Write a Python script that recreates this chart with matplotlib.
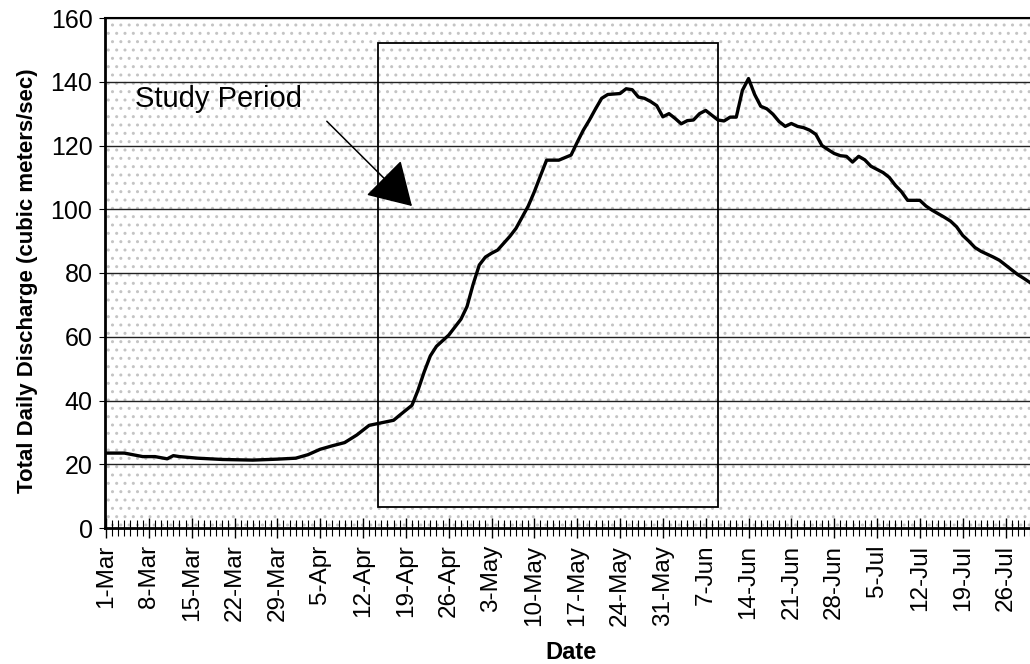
import matplotlib
matplotlib.use('Agg')
import matplotlib.pyplot as plt
import matplotlib.dates as mdates
from matplotlib.patches import Rectangle
import pandas as pd

plt.rcParams['font.family'] = ['Liberation Sans', 'DejaVu Sans']
plt.rcParams['hatch.linewidth'] = 1.0

# daily discharge (m3/s)
dates = ['03-01', '03-04', '03-07', '03-09', '03-11', '03-12', '03-13', '03-16', '03-20',
         '03-25', '03-29', '04-01', '04-03', '04-05', '04-07', '04-09', '04-11', '04-13',
         '04-15', '04-17', '04-18', '04-20', '04-21', '04-22', '04-23', '04-24', '04-26',
         '04-28', '04-29', '04-30', '05-01', '05-02', '05-03', '05-04', '05-06', '05-07',
         '05-08', '05-09', '05-10', '05-11', '05-12', '05-14', '05-16', '05-17', '05-18',
         '05-19', '05-20', '05-21', '05-22', '05-24', '05-25', '05-26', '05-27', '05-28',
         '05-29', '05-30', '05-31', '06-01', '06-02', '06-03', '06-04', '06-05', '06-06',
         '06-07', '06-08', '06-09', '06-10', '06-11', '06-12', '06-13', '06-14', '06-15',
         '06-16', '06-17', '06-18', '06-19', '06-20', '06-21', '06-22', '06-23', '06-24',
         '06-25', '06-26', '06-27', '06-28', '06-29', '06-30', '07-01', '07-02', '07-03',
         '07-04', '07-05', '07-06', '07-07', '07-08', '07-09', '07-10', '07-12', '07-13',
         '07-14', '07-15', '07-16', '07-17', '07-18', '07-19', '07-20', '07-21', '07-22',
         '07-23', '07-24', '07-25', '07-26', '07-27', '07-28', '07-29', '07-30']
discharge = [23.5, 23.5, 22.4, 22.4, 21.7, 22.7, 22.4, 21.9, 21.5,
             21.3, 21.6, 21.9, 23.0, 24.7, 25.8, 26.8, 29.2, 32.2,
             33.0, 33.8, 35.4, 38.5, 43.3, 49.0, 54.0, 57.0, 60.5,
             65.5, 69.5, 76.5, 82.5, 85.0, 86.2, 87.2, 91.5, 94.0,
             97.5, 101.0, 105.5, 110.5, 115.4, 115.4, 117.0, 121.0, 124.8,
             128.0, 131.5, 134.8, 136.0, 136.3, 137.8, 137.5, 135.2, 134.8,
             133.8, 132.5, 129.0, 130.0, 128.5, 126.8, 127.8, 128.0, 130.0,
             131.0, 129.5, 128.0, 127.7, 128.9, 128.9, 137.3, 141.0, 136.0,
             132.3, 131.5, 129.8, 127.5, 126.0, 126.9, 126.0, 125.6, 124.8,
             123.5, 120.0, 118.7, 117.5, 116.8, 116.6, 114.8, 116.6, 115.5,
             113.5, 112.5, 111.5, 110.0, 107.5, 105.5, 102.8, 102.8, 101.0,
             99.7, 98.6, 97.5, 96.3, 94.5, 91.8, 90.0, 88.0, 86.8,
             85.9, 85.0, 84.0, 82.5, 81.0, 79.5, 78.3, 77.0]

year = '2001-'
dates = pd.to_datetime([year + d for d in dates])

# study period box and arrow
study_start = pd.Timestamp(year + '04-14 10:00')
study_end = pd.Timestamp(year + '06-09')
study_low, study_high = 6.6, 152
arrow_tail = (pd.Timestamp(year + '04-06 02:00'), 127.6)
arrow_tip = (pd.Timestamp(year + '04-20'), 101)
label_pos = (pd.Timestamp(year + '03-05 18:00'), 134.5)

fig = plt.figure(figsize=(10.30, 6.64), dpi=100)
ax = fig.add_axes([105/1030, 136/664, 925/1030, 510/664])

# stippled background
ax.set_facecolor('white')
bg = Rectangle((0, 0), 1, 1, transform=ax.transAxes, facecolor='none',
               edgecolor='#c4c4c4', hatch='..', lw=0, zorder=0)
ax.add_patch(bg)

ax.set_ylim(0, 160)
ax.set_yticks(range(0, 161, 20))
for y in range(20, 161, 20):
    ax.axhline(y, color='#222222', lw=1.0, zorder=1)

ax.plot(dates, discharge, color='black', lw=2.4, zorder=4, solid_joinstyle='round')

x0 = mdates.date2num(study_start)
x1 = mdates.date2num(study_end)
ax.add_patch(Rectangle((x0, study_low), x1 - x0, study_high - study_low,
                       facecolor='none', edgecolor='black', lw=1.3, zorder=3))

ax.annotate('', xy=arrow_tip, xytext=arrow_tail,
            arrowprops=dict(arrowstyle='-|>,head_length=1.0,head_width=0.6',
                            mutation_scale=27, color='black', lw=1.1,
                            shrinkA=0, shrinkB=0), zorder=5)
ax.text(label_pos[0], label_pos[1], 'Study Period', fontsize=21,
        va='center', ha='left', zorder=5)

ax.set_xlim(pd.Timestamp(year + '03-01') - pd.Timedelta(hours=4),
            pd.Timestamp(year + '07-30'))
weekly = pd.date_range(year + '03-01', year + '07-30', freq='7D')
ax.set_xticks(weekly)
ax.set_xticklabels([f'{d.day}-{d.strftime("%b")}' for d in weekly], rotation=90)
ax.xaxis.set_minor_locator(mdates.DayLocator())
ax.tick_params(axis='x', which='major', direction='inout', length=14, width=1.0,
               labelsize=17.5, pad=5)
ax.tick_params(axis='x', which='minor', direction='inout', length=12, width=0.8)
ax.tick_params(axis='y', direction='out', length=4, width=0.8, labelsize=18, pad=5)

for side in ['left', 'bottom']:
    ax.spines[side].set_linewidth(2.0)
ax.spines['top'].set_linewidth(1.5)
ax.spines['right'].set_visible(False)

ax.set_ylabel('Total Daily Discharge (cubic meters/sec)', fontsize=16, fontweight='bold')
ax.yaxis.set_label_coords(-0.072, 0.484)
ax.set_xlabel('Date', fontsize=17, fontweight='bold')
ax.xaxis.set_label_coords(0.504, -0.222)

fig.savefig('out.png', dpi=100)
